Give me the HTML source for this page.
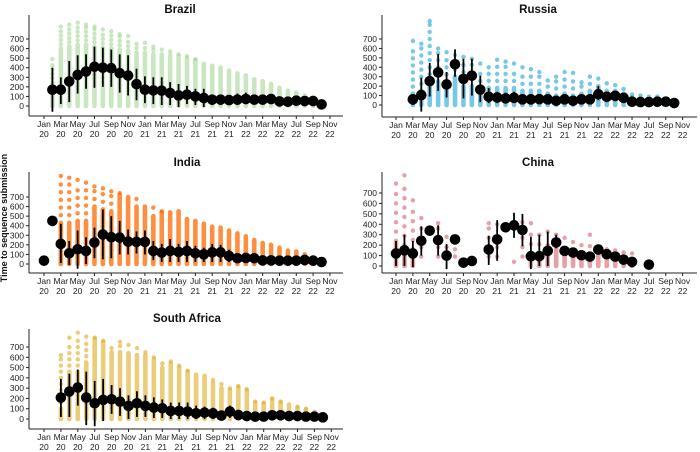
<!DOCTYPE html>
<html><head><meta charset="utf-8">
<style>
html,body{margin:0;padding:0;background:#fff;}
svg{display:block;font-family:"Liberation Sans",sans-serif;}
</style></head>
<body>
<svg id="chart" width="700" height="452" viewBox="0 0 700 452">
<text x="7" y="218" transform="rotate(-90 7 218)" text-anchor="middle" font-size="9" font-weight="bold" fill="#111">Time to sequence submission</text>
</svg>
<script>
const monthLabels = ["Jan","Mar","May","Jul","Sep","Nov","Jan","Mar","May","Jul","Sep","Nov","Jan","Mar","May","Jul","Sep","Nov"];
const yearLabels = ["20","20","20","20","20","20","21","21","21","21","21","21","22","22","22","22","22","22"];
const yTicks = [0,100,200,300,400,500,600,700];

const brazilMonths = [1,2,3,4,5,6,7,8,9,10,11,12,13,14,15,16,17,18,19,20,21,22,23,24,25,26,27,28,29,30,31,32,33];
const brazilMed = [170,170,257,325,360,410,400,395,343,318,228,170,163,160,135,110,118,100,83,66,66,62,66,73,66,66,73,48,45,55,52,52,17];
const brazilLo = [-60,20,40,130,180,190,200,200,140,110,60,30,20,10,10,-10,20,10,-10,10,10,10,10,20,20,20,20,10,10,10,10,10,10];
const brazilHi = [400,300,470,530,540,620,610,590,540,530,390,310,300,300,250,230,210,180,180,120,120,110,130,140,120,120,120,80,70,90,80,80,30];
const brazilDense = [200,600,620,640,640,620,610,600,590,580,560,560,540,540,530,520,500,480,440,420,400,370,340,320,280,260,230,190,160,140,110,90,40];
const brazilMax = [490,830,850,870,850,830,800,780,750,730,650,660,620,590,570,540,520,490,440,420,400,370,340,320,280,260,230,190,160,140,110,90,40];

const russiaMonths = [2,3,4,5,6,7,8,9,10,11,12,13,14,15,16,17,18,19,20,21,22,23,24,25,26,27,28,29,30,31,32,33];
const russiaMed = [60,105,253,346,218,432,277,311,163,87,80,70,76,60,60,62,60,45,60,45,60,60,114,87,97,76,35,31,31,35,35,21];
const russiaLo = [0,-70,90,150,80,300,70,100,30,20,20,20,20,10,10,10,10,10,10,10,10,10,50,30,40,20,10,10,10,10,10,10];
const russiaHi = [110,290,445,540,350,590,490,490,310,180,140,130,140,110,110,110,110,90,110,90,110,110,200,140,150,120,60,50,50,60,60,30];
const russiaDense = [120,150,250,250,250,300,200,200,180,180,180,180,180,150,150,150,120,100,120,100,120,150,200,150,150,120,80,70,60,60,50,30];
const russiaMax = [680,650,890,600,560,530,510,490,440,400,480,460,440,400,380,350,260,300,350,340,240,300,280,230,210,170,110,100,90,90,70,40];

const indiaMonths = [0,1,2,3,4,5,6,7,8,9,10,11,12,13,14,15,16,17,18,19,20,21,22,23,24,25,26,27,28,29,30,31,32,33];
const indiaMed = [35,450,210,112,154,136,224,308,280,276,234,231,231,136,119,136,126,136,112,101,122,122,84,60,63,60,38,38,35,35,35,42,35,21];
const indiaLo = [35,450,10,-10,-50,0,60,50,60,100,100,110,100,40,20,20,20,20,20,20,20,20,20,10,10,10,10,10,10,10,10,10,10,10];
const indiaHi = [35,450,420,240,350,280,380,570,500,450,360,340,350,240,210,260,210,240,190,170,210,200,150,100,110,100,70,70,60,60,60,70,60,30];
const indiaDense = [0,0,430,430,450,450,600,570,550,720,700,600,600,500,540,540,550,470,450,420,390,380,350,320,290,250,220,200,170,140,130,100,70,20];
const indiaMax = [0,0,920,900,880,850,810,790,760,740,700,680,600,590,550,540,550,470,450,420,390,380,350,320,290,250,220,200,170,140,130,100,70,20];

const chinaMonths = [0,1,2,3,4,5,6,7,8,9,11,12,13,14,15,16,17,18,19,20,21,22,23,24,25,26,27,28,30];
const chinaMed = [120,150,120,242,339,248,100,255,32,48,158,255,371,390,345,94,94,145,226,145,129,103,90,158,113,90,61,39,13];
const chinaLo = [0,0,-10,100,339,100,-30,255,32,48,10,50,330,270,190,-30,0,0,170,145,129,103,90,158,113,90,61,39,13];
const chinaHi = [240,300,240,380,339,390,210,255,32,48,290,440,420,510,500,280,300,330,300,145,129,103,90,158,113,90,61,39,13];
const chinaDense = [240,200,160,0,0,0,0,0,0,0,0,0,0,0,0,120,120,200,200,170,150,120,100,120,100,100,80,60,0];
const chinaMax = [790,870,630,460,0,410,280,160,60,80,410,400,0,40,420,410,300,330,300,270,230,200,300,170,160,150,130,120,0];

const saMonths = [2,3,4,5,6,7,8,9,10,11,12,13,14,15,16,17,18,19,20,21,22,23,24,25,26,27,28,29,30,31,32,33];
const saMed = [208,267,306,208,153,186,192,169,127,153,127,111,104,78,78,72,55,62,55,33,72,39,29,23,23,36,36,29,29,23,23,16];
const saLo = [20,20,130,-60,-70,-20,50,30,0,20,20,10,10,0,0,0,0,0,0,0,10,0,0,0,0,0,0,0,0,0,0,0];
const saHi = [390,440,480,460,370,390,330,300,230,270,230,210,190,160,160,160,130,120,110,80,130,90,70,60,60,80,80,70,60,50,50,30];
const saDense = [100,460,460,550,780,750,650,650,640,620,620,580,500,540,500,460,430,420,350,300,280,310,280,160,150,190,160,140,110,90,60,30];
const saMax = [620,790,840,800,790,760,690,750,720,690,650,600,540,560,520,470,430,420,380,340,300,320,290,170,160,200,170,140,120,100,70,30];

const NS = "http://www.w3.org/2000/svg";
const svg = document.getElementById("chart");
function mk(tag, attrs, parent) {
  const e = document.createElementNS(NS, tag);
  for (const k in attrs) e.setAttribute(k, attrs[k]);
  parent.appendChild(e);
  return e;
}

function panel(cfg) {
  const g = mk("g", {}, svg);
  
  
  const xS = m => cfg.jan + cfg.step * m;
  const yS = v => cfg.y0 + (cfg.y700 - cfg.y0) * v / 700;

  const t = mk("text", {x: cfg.cx, y: cfg.titleY, "text-anchor": "middle", "font-size": "11.5", "font-weight": "bold", fill: "#111"}, g);
  t.textContent = cfg.title;
  
  

  const ya = mk("line", {x1: cfg.ax, x2: cfg.ax, y1: cfg.top, y2: cfg.axY, stroke: "#222", "stroke-width": "1"}, g);
  
  
  const xa = mk("line", {x1: cfg.ax, x2: cfg.right, y1: cfg.axY, y2: cfg.axY, stroke: "#222", "stroke-width": "1"}, g);
  
  

  yTicks.forEach(v => {
    mk("line", {x1: cfg.ax - 3, x2: cfg.ax, y1: yS(v), y2: yS(v), stroke: "#222"}, g);
    const tl = mk("text", {x: cfg.ax - 5, y: yS(v) + 3, "text-anchor": "end", "font-size": "8.5", fill: "#222"}, g);
    tl.textContent = v;
    
    
  });
  monthLabels.forEach((lab, i) => {
    const x = xS(i * 2);
    mk("line", {x1: x, x2: x, y1: cfg.axY, y2: cfg.axY + 3, stroke: "#222"}, g);
    const a = mk("text", {x: x, y: cfg.axY + 11, "text-anchor": "middle", "font-size": "8.5", fill: "#222"}, g);
    a.textContent = lab;
    
    
    const b = mk("text", {x: x, y: cfg.axY + 21, "text-anchor": "middle", "font-size": "8.5", fill: "#222"}, g);
    b.textContent = yearLabels[i];
    
    
  });

  cfg.months.forEach((m, i) => {
    const x = xS(m);
    const dense = cfg.dense[i], mx = cfg.max[i];
    if (dense > 0) {
      const col = mk("rect", {x: x - 2.3, y: yS(dense) - 2.3, width: 4.6, height: yS(0) - yS(dense) + 4.6, rx: 2.3, fill: cfg.color, opacity: cfg.op}, g);
      
      
    }
    for (let v = dense + cfg.gap; v < mx - cfg.gap / 2; v += cfg.gap) {
      const p = mk("circle", {cx: x, cy: yS(v), r: 2.2, fill: cfg.color, opacity: cfg.op}, g);
      
      
    }
    if (mx > dense) {
      const p = mk("circle", {cx: x, cy: yS(mx), r: 2.2, fill: cfg.color, opacity: cfg.op}, g);
      
      
    }
  });
  cfg.months.forEach((m, i) => {
    const x = xS(m);
    if (cfg.hi[i] !== cfg.lo[i]) {
      const eb = mk("line", {x1: x, x2: x, y1: yS(cfg.lo[i]), y2: yS(cfg.hi[i]), stroke: "#000", "stroke-width": "1.8"}, g);
      
      
    }
    const c = mk("circle", {cx: x, cy: yS(cfg.med[i]), r: 5.3, fill: "#000"}, g);
    
    
  });
}

panel({key: "brazil", title: "Brazil", cx: 180, titleY: 13, ax: 29, top: 15, axY: 116, right: 343, y0: 106, y700: 39, jan: 44, step: 8.41, color: "#9fd18e", op: 0.55, gap: 45,
  months: brazilMonths, med: brazilMed, lo: brazilLo, hi: brazilHi, dense: brazilDense, max: brazilMax});
panel({key: "russia", title: "Russia", cx: 538, titleY: 13, ax: 382, top: 15, axY: 117, right: 697, y0: 105, y700: 39, jan: 396, step: 8.43, color: "#1aa3d6", op: 0.6, gap: 75,
  months: russiaMonths, med: russiaMed, lo: russiaLo, hi: russiaHi, dense: russiaDense, max: russiaMax});
panel({key: "india", title: "India", cx: 187, titleY: 166, ax: 29, top: 172, axY: 273, right: 343, y0: 264, y700: 197, jan: 44, step: 8.41, color: "#ff6a00", op: 0.75, gap: 80,
  months: indiaMonths, med: indiaMed, lo: indiaLo, hi: indiaHi, dense: indiaDense, max: indiaMax});
panel({key: "china", title: "China", cx: 538, titleY: 166, ax: 382, top: 172, axY: 273, right: 697, y0: 266, y700: 193, jan: 396, step: 8.43, color: "#d6626a", op: 0.6, gap: 90,
  months: chinaMonths, med: chinaMed, lo: chinaLo, hi: chinaHi, dense: chinaDense, max: chinaMax});
panel({key: "south-africa", title: "South Africa", cx: 187, titleY: 322, ax: 29, top: 329, axY: 429, right: 343, y0: 419, y700: 347, jan: 44, step: 8.45, color: "#e0b130", op: 0.65, gap: 60,
  months: saMonths, med: saMed, lo: saLo, hi: saHi, dense: saDense, max: saMax});
</script>
</body></html>
